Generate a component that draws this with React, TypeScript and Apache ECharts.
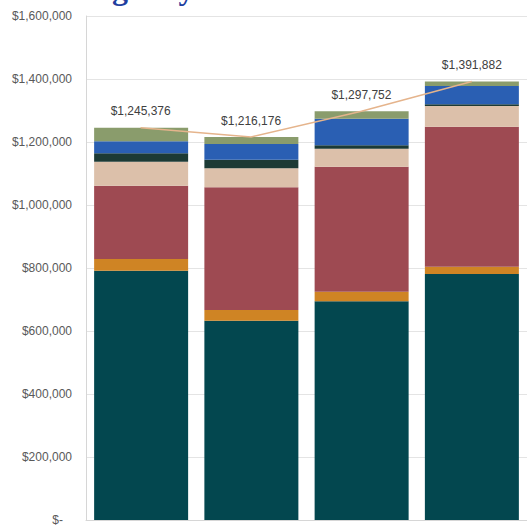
import React, { useEffect, useRef } from "react";
import * as echarts from "echarts";

// ---- data ----
const categories = ["Year 1", "Year 2", "Year 3", "Year 4"];
const seriesNames = ["Segment A", "Segment B", "Segment C", "Segment D", "Segment E", "Segment F", "Segment G"];
const segA = [791000, 632700, 694200, 781000]; // teal
const segB = [37500, 34000, 30700, 23200]; // orange
const segC = [232800, 389400, 396800, 444400]; // red
const segD = [76200, 60400, 57100, 65700]; // beige
const segE = [26600, 27300, 10600, 5300]; // dark green
const segF = [38100, 49900, 84700, 58200]; // blue
const segG = [43176, 22476, 23652, 14082]; // sage
const totals = [1245376, 1216176, 1297752, 1391882];
const yTicks = { min: 0, max: 1600000, interval: 200000 };
const titleText = "Budget by Fund";

const segColors = ["#03474f", "#cf8424", "#9e4a52", "#dcc0aa", "#1c3a35", "#2a5fb3", "#8a9c6c"];
const segData = [segA, segB, segC, segD, segE, segF, segG];

const money = (v: number) => (v === 0 ? "{z|$-}" : "$" + v.toLocaleString("en-US"));

export default function App() {
  const ref = useRef<HTMLDivElement>(null);
  useEffect(() => {
    if (!ref.current) return;
    const chart = echarts.init(ref.current, undefined, { renderer: "svg" });
    const font = "'Liberation Sans', Arial, sans-serif";
    chart.setOption({
      animation: false,
      backgroundColor: "#ffffff",
      textStyle: { fontFamily: font },
      graphic: [
        {
          type: "text",
          left: 55,
          top: -28,
          style: {
            text: titleText,
            font: "bold 32px 'Liberation Serif', 'Times New Roman', serif",
            fill: "#1f3f9f",
          },
        },
      ],
      grid: [
        { left: 86, top: 16, right: -4, bottom: 6 },
        { left: 85.5, top: 16, right: -10.5, bottom: 6 },
      ],
      xAxis: [
        {
          type: "category",
          gridIndex: 0,
          data: categories,
          axisLine: { show: true, lineStyle: { color: "#d6d6d6", width: 1 } },
          axisTick: { show: false },
          axisLabel: { show: false },
        },
        {
          type: "category",
          gridIndex: 1,
          data: categories,
          show: false,
        },
      ],
      yAxis: [
        {
          type: "value",
          gridIndex: 0,
          min: yTicks.min,
          max: yTicks.max,
          interval: yTicks.interval,
          axisLine: { show: true, lineStyle: { color: "#d6d6d6", width: 1 } },
          axisTick: { show: false },
          splitLine: { show: true, lineStyle: { color: "#e4e4e4", width: 1 } },
          axisLabel: {
            margin: 14,
            fontSize: 12,
            color: "#595959",
            fontFamily: font,
            formatter: money,
            rich: { z: { padding: [0, 9, 0, 0], fontSize: 12, color: "#595959", fontFamily: font } },
          },
        },
        {
          type: "value",
          gridIndex: 1,
          min: yTicks.min,
          max: yTicks.max,
          interval: yTicks.interval,
          show: false,
          splitLine: { show: false },
        },
      ],
      series: [
        ...segData.map((d, i) => ({
          name: seriesNames[i],
          type: "bar",
          stack: "total",
          xAxisIndex: 0,
          yAxisIndex: 0,
          barWidth: 94,
          data: d,
          itemStyle: { color: segColors[i] },
        })),
        {
          name: "Total",
          type: "line",
          xAxisIndex: 1,
          yAxisIndex: 1,
          data: totals,
          symbol: "circle",
          symbolSize: 0.5,
          showSymbol: true,
          clip: false,
          itemStyle: { color: "#e5b48c" },
          lineStyle: { color: "#e5b48c", width: 1.5 },
          label: {
            show: true,
            position: "top",
            distance: 10,
            fontSize: 12,
            color: "#404040",
            fontFamily: font,
            formatter: (p: any) => "$" + Number(p.value).toLocaleString("en-US"),
          },
          labelLayout: { hideOverlap: false },
          z: 5,
        },
      ],
    });
    return () => chart.dispose();
  }, []);
  return (
    <div
      ref={ref}
      style={{ position: "fixed", left: 0, top: 0, width: 527, height: 526, overflow: "hidden" }}
    />
  );
}
